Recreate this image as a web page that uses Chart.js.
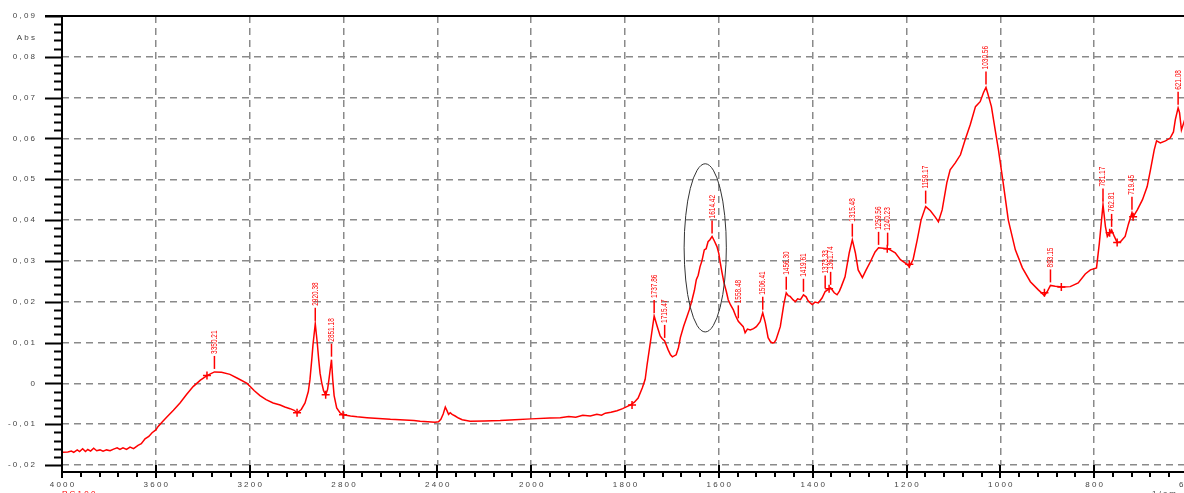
<!DOCTYPE html>
<html>
<head>
<meta charset="utf-8">
<script src="https://cdn.jsdelivr.net/npm/chart.js@4/dist/chart.umd.min.js"></script>
<style>
  html, body { margin: 0; padding: 0; background: #fff; overflow: hidden; }
  #wrap { position: absolute; left: 0; top: 0; width: 1200px; height: 510px; }
</style>
</head>
<body>
<div id="wrap"><canvas id="ir" width="1200" height="510"></canvas></div>
<script>
// spectrum: wavenumber (1/cm) and absorbance
var wn = [
  4000, 3975, 3960, 3950, 3935, 3925, 3912, 3900, 3890, 3878, 3865, 3852, 3838, 3825, 3810,
  3795, 3780, 3765, 3753, 3740, 3725, 3710, 3695, 3676, 3662, 3646, 3630, 3616, 3600, 3591,
  3570, 3552, 3525, 3497, 3470, 3441, 3410, 3382, 3365, 3350.21, 3320, 3284, 3250, 3211, 3180,
  3156, 3130, 3100, 3070, 3050, 3028, 3010, 2998, 2980, 2964, 2950, 2943, 2935, 2930, 2920.38,
  2912, 2906, 2900, 2893, 2885, 2876, 2868, 2862, 2851.18, 2846, 2840, 2829, 2815, 2802, 2770,
  2742, 2700, 2650, 2600, 2559, 2500, 2473, 2440, 2410, 2395, 2385, 2375, 2366, 2358, 2352,
  2345, 2337, 2324, 2310, 2294, 2260, 2200, 2132, 2070, 2000, 1960, 1938, 1920, 1905, 1890,
  1874, 1860, 1850, 1842, 1830, 1817, 1805, 1796, 1789, 1780, 1772, 1763, 1757, 1753, 1746,
  1737.86, 1731, 1725, 1721, 1715.47, 1708, 1703, 1699, 1691, 1686, 1682, 1675, 1668, 1663, 1657,
  1652, 1648, 1644, 1640, 1636, 1631, 1627, 1623, 1619, 1614.42, 1610, 1604, 1600, 1597, 1593,
  1589, 1584, 1580, 1575, 1569, 1564, 1558.48, 1548, 1544, 1539, 1533, 1526, 1520, 1512, 1506.41,
  1501, 1495, 1490, 1486, 1482, 1478, 1469, 1461, 1456.3, 1452, 1448, 1442, 1437, 1432, 1426,
  1419.61, 1414, 1410, 1405, 1401, 1395, 1388, 1380, 1373.33, 1368, 1361.74, 1354, 1348, 1343, 1339,
  1331, 1322, 1315.48, 1309, 1303, 1294, 1286, 1277, 1267, 1259.56, 1250, 1240.23, 1235, 1224, 1213,
  1203, 1194, 1186, 1177, 1169, 1159.17, 1149, 1139, 1132, 1124, 1114, 1107, 1096, 1085, 1075,
  1064, 1053, 1043, 1036, 1030.56, 1026, 1019, 1011, 1004, 994, 983, 968, 953, 936, 919,
  906, 900, 893.15, 883, 868, 851, 834, 819, 808, 795, 789, 781.17, 776, 772, 767,
  762.81, 757, 751, 744, 734, 727, 719.45, 717, 708, 697, 687, 680, 672, 667, 659,
  648, 638, 631, 627, 621.08, 618, 614, 607
];
var absb = [
  -0.0169, -0.0168, -0.0166, -0.0169, -0.0163, -0.0167, -0.0160, -0.0167, -0.0162, -0.0166, -0.0159, -0.0165, -0.0163, -0.0166, -0.0163,
  -0.0165, -0.0161, -0.0158, -0.0162, -0.0158, -0.0162, -0.0156, -0.0160, -0.0152, -0.0148, -0.0136, -0.0130, -0.0121, -0.0114, -0.0106,
  -0.0093, -0.0082, -0.0066, -0.0048, -0.0028, -0.0008, 0.0008, 0.0019, 0.0024, 0.0028, 0.0027, 0.0022, 0.0012, 0.0000, -0.0018,
  -0.0030, -0.0040, -0.0048, -0.0053, -0.0058, -0.0062, -0.0066, -0.0072, -0.0064, -0.0048, -0.0020, 0.0009, 0.0060, 0.0095, 0.0146,
  0.0100, 0.0060, 0.0025, 0.0002, -0.0018, -0.0028, -0.0015, 0.0010, 0.0058, 0.0010, -0.0030, -0.0060, -0.0072, -0.0077, -0.0080,
  -0.0082, -0.0084, -0.0086, -0.0088, -0.0089, -0.0091, -0.0093, -0.0094, -0.0095, -0.0094, -0.0088, -0.0075, -0.0058, -0.0068, -0.0076,
  -0.0072, -0.0076, -0.0080, -0.0085, -0.0089, -0.0093, -0.0092, -0.0091, -0.0089, -0.0087, -0.0085, -0.0084, -0.0081, -0.0083, -0.0078,
  -0.0080, -0.0076, -0.0078, -0.0073, -0.0071, -0.0067, -0.0062, -0.0057, -0.0053, -0.0046, -0.0036, -0.0011, 0.0010, 0.0045, 0.0100,
  0.0165, 0.0138, 0.0116, 0.0110, 0.0104, 0.0082, 0.0070, 0.0065, 0.0070, 0.0088, 0.0112, 0.0140, 0.0163, 0.0180, 0.0205,
  0.0228, 0.0254, 0.0265, 0.0286, 0.0300, 0.0327, 0.0330, 0.0347, 0.0352, 0.0360, 0.0350, 0.0335, 0.0318, 0.0296, 0.0270,
  0.0246, 0.0225, 0.0205, 0.0192, 0.0180, 0.0165, 0.0152, 0.0139, 0.0124, 0.0133, 0.0131, 0.0134, 0.0139, 0.0151, 0.0173,
  0.0149, 0.0112, 0.0102, 0.0099, 0.0100, 0.0107, 0.0139, 0.0197, 0.0222, 0.0215, 0.0213, 0.0205, 0.0200, 0.0207, 0.0205,
  0.0217, 0.0212, 0.0203, 0.0197, 0.0193, 0.0199, 0.0197, 0.0209, 0.0225, 0.0229, 0.0234, 0.0222, 0.0217, 0.0226, 0.0237,
  0.0261, 0.0320, 0.0352, 0.0320, 0.0278, 0.0259, 0.0278, 0.0298, 0.0322, 0.0332, 0.0331, 0.0330, 0.0327, 0.0320, 0.0303,
  0.0295, 0.0286, 0.0303, 0.0352, 0.0400, 0.0433, 0.0423, 0.0408, 0.0396, 0.0425, 0.0492, 0.0523, 0.0540, 0.0560, 0.0597,
  0.0634, 0.0678, 0.0690, 0.0712, 0.0725, 0.0707, 0.0678, 0.0621, 0.0572, 0.0492, 0.0400, 0.0327, 0.0283, 0.0249, 0.0229,
  0.0215, 0.0225, 0.0240, 0.0238, 0.0236, 0.0237, 0.0246, 0.0268, 0.0278, 0.0283, 0.0343, 0.0438, 0.0384, 0.0360, 0.0369,
  0.0376, 0.0360, 0.0345, 0.0347, 0.0360, 0.0390, 0.0418, 0.0408, 0.0425, 0.0450, 0.0482, 0.0523, 0.0572, 0.0594, 0.0589,
  0.0594, 0.0601, 0.0616, 0.0646, 0.0675, 0.0663, 0.0621, 0.0646
];

// picked peaks (must be present in wn)
var peaks = [3350.21, 2920.38, 2851.18, 1737.86, 1715.47, 1614.42, 1558.48, 1506.41, 1456.3, 1419.61,
  1373.33, 1361.74, 1315.48, 1259.56, 1240.23, 1159.17, 1030.56, 893.15, 781.17, 762.81, 719.45, 621.08];

// baseline marks
var markWn = [3382, 2998, 2876, 2802, 1785, 1365, 1241, 1194, 906, 870, 767, 751, 717];
var markAbs = [0.0019, -0.0072, -0.0028, -0.0077, -0.0053, 0.0232, 0.0330, 0.0292, 0.0222, 0.0236, 0.0369, 0.0345, 0.0408];

// highlighted band: centre wavenumber/absorbance and half widths
var bandWn = 1629, bandAbs = 0.0332, bandHalfWn = 45, bandHalfAbs = 0.0206;

var xTicks = [4000, 3600, 3200, 2800, 2400, 2000, 1800, 1600, 1400, 1200, 1000, 800, 600];

// the axis is compressed above 2000: 400 per division up there, 200 below
function toU(w) { return w >= 2000 ? (4000 - w) / 400 : 5 + (2000 - w) / 200; }
function fromU(u) { return u <= 5 ? 4000 - 400 * u : 2000 - 200 * (u - 5); }
function spaced(s) { return s.split('').join(' '); }

var FONT = '"Liberation Sans", Arial, sans-serif';
var CLEAR = 'rgba(0,0,0,0)';

var pts = wn.map(function (w, i) { return { x: toU(w), y: absb[i] }; });
var marks = markWn.map(function (w, i) { return { x: toU(w), y: markAbs[i] }; });

var irDecor = {
  id: 'irDecor',
  afterDraw: function (chart) {
    var ctx = chart.ctx, ca = chart.chartArea;
    var sx = chart.scales.x, sy = chart.scales.y;
    var left = ca.left, bottom = ca.bottom, axisY = bottom + 7;
    ctx.save();
    ctx.strokeStyle = '#000';
    ctx.lineWidth = 2;
    ctx.beginPath();
    ctx.moveTo(left, ca.top); ctx.lineTo(left, bottom + 13);
    ctx.moveTo(left - 17, ca.top); ctx.lineTo(chart.width, ca.top);
    ctx.moveTo(left, axisY); ctx.lineTo(chart.width, axisY);
    // y ticks, 4 minor between majors
    for (var k = 0; k <= 55; k++) {
      var py = Math.round(sy.getPixelForValue(-0.02 + k * 0.002)) + 0.5;
      ctx.moveTo(k % 5 === 0 ? left - 17 : left - 8, py); ctx.lineTo(left, py);
    }
    // x ticks
    for (var j = 0; j <= 60; j++) {
      var px = Math.round(sx.getPixelForValue(j * 0.2));
      if (j % 5 === 0) { ctx.moveTo(px, bottom); ctx.lineTo(px, bottom + 13); }
      else { ctx.moveTo(px, axisY); ctx.lineTo(px, axisY + 5); }
    }
    ctx.stroke();

    // highlighted band
    var cx = sx.getPixelForValue(toU(bandWn));
    var cy = sy.getPixelForValue(bandAbs);
    var rx = Math.abs(sx.getPixelForValue(toU(bandWn - bandHalfWn)) - cx);
    var ry = Math.abs(sy.getPixelForValue(bandAbs + bandHalfAbs) - cy);
    ctx.beginPath();
    ctx.strokeStyle = '#333';
    ctx.lineWidth = 1;
    ctx.ellipse(cx, cy, rx, ry, 0, 0, Math.PI * 2);
    ctx.stroke();

    // peak labels
    ctx.strokeStyle = '#ff0000';
    ctx.fillStyle = '#ff0000';
    ctx.lineWidth = 1.5;
    ctx.font = '9px ' + FONT;
    peaks.forEach(function (p) {
      var i = wn.indexOf(p);
      var px = sx.getPixelForValue(toU(p));
      var py = sy.getPixelForValue(absb[i]);
      ctx.beginPath();
      ctx.moveTo(px, py - 3); ctx.lineTo(px, py - 16);
      ctx.stroke();
      ctx.save();
      ctx.translate(px, py - 18);
      ctx.rotate(-Math.PI / 2);
      ctx.scale(0.72, 1);
      ctx.textAlign = 'left';
      ctx.textBaseline = 'middle';
      ctx.fillText(p.toFixed(2), 0, 0);
      ctx.restore();
    });

    // axis captions
    ctx.font = '8px ' + FONT;
    ctx.fillStyle = '#444';
    ctx.textAlign = 'right';
    ctx.textBaseline = 'middle';
    ctx.fillText(spaced('Abs'), 35, 38);
    ctx.textAlign = 'left';
    ctx.textBaseline = 'top';
    ctx.fillText(spaced('1/cm'), 1152, 490);
    ctx.fillStyle = '#ff0000';
    ctx.fillText(spaced('PC100'), left, 490);
    ctx.restore();
  }
};

var chart = new Chart(document.getElementById('ir').getContext('2d'), {
  type: 'line',
  data: {
    datasets: [{
      data: pts,
      borderColor: '#ff0000',
      borderWidth: 1.5,
      pointRadius: 0,
      tension: 0,
      fill: false
    }, {
      data: marks,
      showLine: false,
      pointStyle: 'cross',
      pointRadius: 4,
      borderColor: '#ff0000',
      borderWidth: 1.5
    }]
  },
  options: {
    responsive: false,
    animation: false,
    devicePixelRatio: 1,
    layout: { padding: { top: 16, right: 12, left: 0, bottom: 17 } },
    plugins: { legend: { display: false }, tooltip: { enabled: false } },
    scales: {
      x: {
        type: 'linear',
        min: 0,
        max: 12,
        afterFit: function (s) { s.height = 28; },
        afterBuildTicks: function (s) { s.ticks = xTicks.map(function (w) { return { value: toU(w) }; }); },
        ticks: {
          autoSkip: false,
          maxRotation: 0,
          padding: 0,
          color: '#444',
          font: { size: 8, family: FONT },
          callback: function (v) { return spaced(String(Math.round(fromU(v)))); }
        },
        grid: {
          tickLength: 15,
          tickColor: CLEAR,
          lineWidth: 1.5,
          color: function (c) { return c.tick && c.tick.value === 0 ? CLEAR : '#8a8a8a'; }
        },
        border: { display: false, dash: [7, 5] }
      },
      y: {
        min: -0.02,
        max: 0.09,
        afterFit: function (s) { s.width = 62; },
        ticks: {
          stepSize: 0.01,
          padding: 0,
          color: '#444',
          font: { size: 8, family: FONT },
          callback: function (v) {
            var r = Math.round(v * 100);
            if (r === 0) return '0';
            return spaced((r < 0 ? '-' : '') + '0,' + String(Math.abs(r)).padStart(2, '0'));
          }
        },
        grid: { tickLength: 27, tickColor: CLEAR, lineWidth: 1.5, color: '#8a8a8a' },
        border: { display: false, dash: [7, 5] }
      }
    }
  },
  plugins: [irDecor]
});
</script>
</body>
</html>
